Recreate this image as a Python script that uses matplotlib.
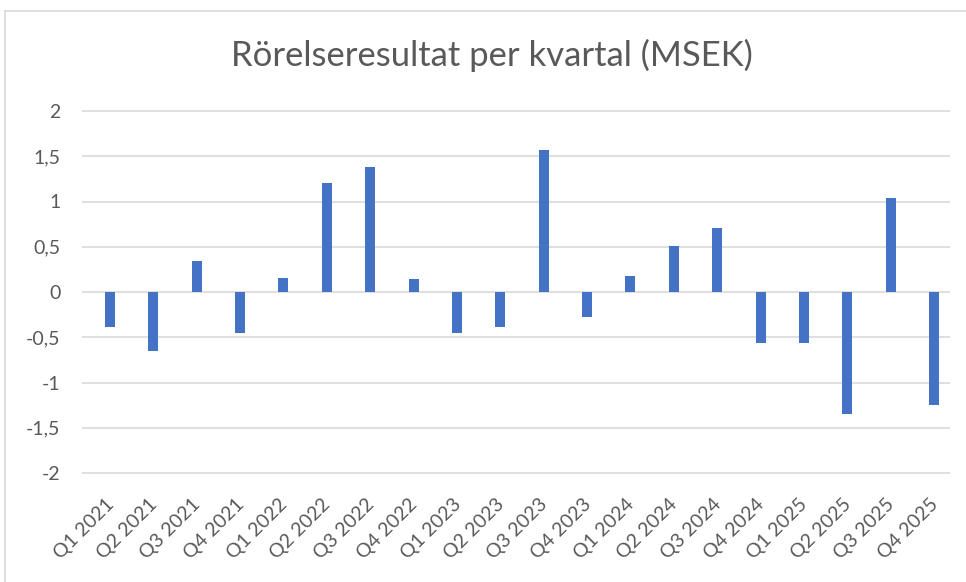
import matplotlib
matplotlib.use("Agg")
import matplotlib.pyplot as plt
from matplotlib.ticker import FuncFormatter
from matplotlib.lines import Line2D
from matplotlib.transforms import ScaledTranslation

# Quarterly operating result (MSEK)
quarters = ["Q1 2021", "Q2 2021", "Q3 2021", "Q4 2021",
            "Q1 2022", "Q2 2022", "Q3 2022", "Q4 2022",
            "Q1 2023", "Q2 2023", "Q3 2023", "Q4 2023",
            "Q1 2024", "Q2 2024", "Q3 2024", "Q4 2024",
            "Q1 2025", "Q2 2025", "Q3 2025", "Q4 2025"]
results = [-0.39, -0.65, 0.34, -0.45,
           0.16, 1.20, 1.38, 0.14,
           -0.45, -0.39, 1.57, -0.28,
           0.18, 0.51, 0.71, -0.56,
           -0.56, -1.35, 1.04, -1.25]
y_ticks = [-2, -1.5, -1, -0.5, 0, 0.5, 1, 1.5, 2]

plt.rcParams["font.family"] = ["Lato", "DejaVu Sans"]
text_color = "#595959"

fig = plt.figure(figsize=(9.66, 5.82), dpi=100)
ax = fig.add_axes([88.3 / 966, 1 - 473 / 582, 867.4 / 966, 362 / 582])

x = list(range(len(quarters)))
ax.bar(x, results, width=0.23, color="#4472C4", zorder=3)

ax.set_xlim(-0.5, len(quarters) - 0.5)
ax.set_ylim(-2, 2)
# gridlines run a bit left of the first category, like in Excel
ax.hlines(y_ticks, -0.646, 19.37, color="#D9D9D9", linewidth=1.2, zorder=0, clip_on=False)
ax.set_yticks(y_ticks)
ax.yaxis.set_major_formatter(FuncFormatter(lambda v, p: f"{v:g}".replace(".", ",")))
for s in ax.spines.values():
    s.set_visible(False)
ax.tick_params(axis="y", length=0, pad=20, labelsize=14, labelcolor=text_color)
ax.tick_params(axis="x", length=0, pad=16, labelsize=14, labelcolor=text_color)
ax.set_xticks(x)
ax.set_xticklabels(quarters, rotation=45, ha="right", rotation_mode="anchor")
shift = ScaledTranslation(-5 / 100, 0, fig.dpi_scale_trans)
for lbl in ax.get_xticklabels():
    lbl.set_transform(lbl.get_transform() + shift)

fig.text(492 / 966, 1 - 55 / 582, "Rörelseresultat per kvartal (MSEK)",
         ha="center", va="center", fontsize=24.9, color=text_color)

# chart frame (top and left edges visible in the crop)
fig.add_artist(Line2D([5 / 966, 5 / 966], [0, 1 - 11 / 582], transform=fig.transFigure,
                      color="#D9D9D9", linewidth=1.2))
fig.add_artist(Line2D([5 / 966, 1], [1 - 11 / 582, 1 - 11 / 582], transform=fig.transFigure,
                      color="#D9D9D9", linewidth=1.2))

fig.savefig("out.png", dpi=100, facecolor="white")
